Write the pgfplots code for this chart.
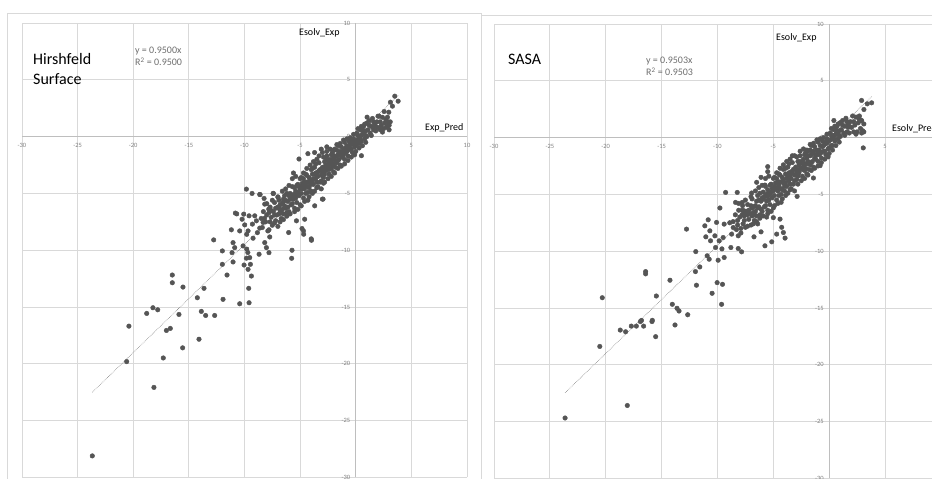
\documentclass[border=0pt]{standalone}
\usepackage{fontspec}
\setmainfont{Carlito}
\usepackage{pgfplots}
\pgfplotsset{compat=1.18}
\definecolor{dot}{RGB}{85,85,85}
\definecolor{gridc}{RGB}{217,217,217}
\definecolor{axc}{RGB}{190,190,190}
\definecolor{tickc}{RGB}{128,128,128}
\definecolor{eqc}{RGB}{110,110,110}
\pgfplotsset{excel/.style={
  scale only axis, anchor=south west,
  xmin=-30,xmax=10,ymin=-30,ymax=10, enlargelimits=false,
  axis lines=middle,
  axis line style={-, draw=axc, line width=0.8pt},
  every inner x axis line/.append style={-},
  every inner y axis line/.append style={-},
  xtick={-30,-25,...,10}, ytick={-30,-25,...,10},
  xticklabels={-30,-25,-20,-15,-10,-5,,5,10},
  yticklabels={-30,-25,-20,-15,-10,-5,0,5,10},
  hide obscured x ticks=false, hide obscured y ticks=false,
  major tick length=0pt,
  grid=major, grid style={draw=gridc, line width=0.8pt},
  tick label style={font=\fontsize{6.5}{7}\selectfont, text=tickc},
  x tick label style={yshift=-3pt},
  y tick label style={xshift=-2pt},
}}
\begin{document}
\begin{tikzpicture}
\useasboundingbox (0,0) rectangle (932pt,479pt);
\draw[gridc, line width=0.8pt] (7pt,466pt) rectangle (481pt,-2pt);
\draw[gridc, line width=0.8pt] (481pt,464pt) rectangle (945pt,-2pt);
% ---------------- left: Hirshfeld surface
\begin{axis}[excel, at={(22pt,1.5pt)}, width=445pt, height=454.5pt]
\addplot[only marks, mark=*, mark size=2.3pt, dot] coordinates {
(-8.5,-7.2)(-8.3,-6.6)(-8.4,-8.0)(-8.1,-7.5)(-8.0,-6.9)(-7.9,-8.3)
(-7.7,-6.2)(-7.6,-7.1)(-7.5,-7.8)(-7.4,-6.6)(-7.3,-5.8)(-7.2,-7.4)(-7.1,-6.9)(-7.0,-6.2)(-7.0,-7.9)
(-6.9,-5.6)(-6.8,-6.5)(-6.7,-7.2)(-6.6,-5.9)(-6.5,-6.8)(-6.4,-5.2)(-6.3,-6.3)(-6.2,-7.0)(-6.1,-5.7)(-6.0,-6.6)
(-5.9,-5.0)(-5.8,-6.0)(-5.7,-4.4)(-5.6,-5.5)(-5.5,-6.3)(-5.4,-4.8)(-5.3,-5.8)(-5.2,-4.2)(-5.1,-5.2)(-5.0,-6.0)
(-4.9,-3.6)(-4.8,-4.6)(-4.7,-5.4)(-4.6,-4.0)(-4.5,-5.0)(-4.4,-3.4)(-4.3,-4.4)(-4.2,-5.3)(-4.1,-3.8)(-4.0,-4.8)(-4.0,-2.9)
(-3.9,-3.3)(-3.8,-4.2)(-3.7,-2.7)(-3.6,-3.7)(-3.5,-4.5)(-3.4,-3.1)(-3.3,-2.3)(-3.2,-4.0)(-3.1,-3.4)(-3.0,-2.7)(-3.0,-1.4)
(-2.9,-3.6)(-2.8,-2.2)(-2.7,-3.0)(-2.6,-1.7)(-2.5,-2.6)(-2.4,-3.3)(-2.3,-2.0)(-2.2,-2.8)(-2.1,-1.4)(-2.0,-2.4)(-2.0,-3.1)
(-1.9,-1.7)(-1.8,-2.7)(-1.7,-1.2)(-1.6,-2.1)(-1.5,-1.5)(-1.4,-2.5)(-1.3,-0.9)(-1.2,-1.8)(-1.1,-1.2)(-1.0,-2.0)(-1.0,-0.5)
(-0.9,-1.4)(-0.8,-0.8)(-0.7,-1.7)(-0.6,-0.4)(-0.5,-1.1)(-0.4,-0.7)(-0.3,-1.4)(-0.2,-0.2)(-0.1,-0.9)(0.0,-0.4)(0.0,-1.3)
(0.1,0.3)(0.2,-0.6)(0.3,-0.1)(0.4,0.6)(0.5,-0.4)(0.6,0.2)(0.7,0.9)(0.8,-0.2)(0.9,0.5)(1.0,1.2)(1.0,0.0)
(1.1,0.6)(1.2,1.4)(1.3,0.3)(1.4,0.9)(1.5,1.6)(1.6,0.6)(1.7,1.1)(1.8,0.5)(1.9,1.3)(2.0,0.8)(2.1,1.8)
(2.2,0.6)(2.3,1.0)(2.5,0.7)(2.6,1.2)(2.8,0.9)(2.9,1.3)(3.0,1.0)(2.4,1.7)
(-6.8,-6.0)(-6.6,-6.4)(-6.3,-5.6)(-6.1,-6.2)(-5.9,-5.5)(-5.7,-5.9)(-5.6,-5.1)(-5.4,-5.4)(-5.2,-4.9)(-5.0,-4.6)
(-4.8,-4.1)(-4.9,-5.0)(-4.6,-4.6)(-4.4,-4.0)(-4.3,-4.9)(-4.2,-3.6)(-4.0,-4.2)(-3.8,-3.7)(-3.6,-3.2)(-3.5,-4.0)
(-3.4,-3.5)(-3.2,-2.9)(-3.1,-3.9)(-2.9,-2.9)(-2.8,-3.3)(-2.7,-2.5)(-2.5,-2.1)(-2.4,-2.9)(-2.3,-2.4)(-2.1,-2.6)
(-2.0,-1.9)(-1.8,-2.2)(-1.7,-1.7)(-1.5,-2.0)(-1.4,-1.3)(-1.3,-1.7)(-1.1,-1.6)(-0.9,-1.0)(-0.7,-1.2)(-0.6,-0.9)
(-0.4,-1.1)(-0.2,-0.6)(0.1,-0.3)(0.3,-0.6)(0.5,0.1)(0.7,0.3)(0.9,0.1)(-7.7,-7.5)(-7.3,-6.9)(-6.9,-6.8)
(-7.8,-6.7)(-8.2,-7.2)(-6.5,-5.5)(-6.2,-5.0)(-5.5,-4.5)(-5.3,-4.3)(-4.7,-3.7)(-4.5,-3.3)(-3.9,-2.8)(-3.6,-2.4)
(-2.6,-2.0)(-2.2,-1.6)(-1.9,-1.1)(-1.6,-0.8)
(-5.1,-1.97)(-5.6,-3.2)(-4.3,-1.5)(-3.7,-1.4)(-3.1,-1.1)(-2.6,-0.9)(-2.9,-4.1)(-3.0,-5.5)(-4.7,-8.3)(-4.0,-9.0)
(-8.6,-5.1)(-7.4,-5.0)
(-8.0,-5.9)(-7.8,-8.2)(-7.5,-5.6)(-7.3,-7.6)(-7.0,-5.3)(-6.8,-7.5)(-6.6,-4.8)(-6.5,-7.3)(-6.3,-4.6)(-6.2,-6.7)
(-6.0,-4.3)(-5.9,-6.8)(-5.7,-3.7)(-5.5,-6.6)(-5.4,-3.5)(-5.2,-6.4)(-5.0,-3.7)(-4.9,-6.1)(-4.7,-3.2)(-4.6,-5.7)
(-4.4,-2.8)(-4.3,-5.6)(-4.1,-2.5)(-3.9,-5.0)(-3.8,-2.2)(-3.7,-4.8)(-3.5,-2.0)(-3.4,-4.4)(-3.3,-1.7)(-3.1,-4.6)
(-2.9,-1.8)(-2.8,-4.0)(-2.6,-1.3)(-2.5,-3.7)(-2.3,-1.1)(-2.2,-3.5)(-2.0,-1.2)(-1.9,-3.2)(-1.7,-0.7)(-1.6,-2.8)
(-1.4,-0.6)(-1.3,-2.6)(-1.1,-0.3)(-1.0,-2.4)(-0.8,-0.2)(-0.7,-2.1)(-0.5,-0.1)(-0.4,-1.8)(-0.2,0.2)(-0.1,-1.6)
(0.2,0.7)(0.3,-1.0)(0.5,0.9)(0.6,-0.8)(0.8,1.1)(0.9,-0.5)(1.2,1.0)(1.4,0.1)(1.6,1.3)(1.8,0.9)(2.2,1.3)(2.4,0.4)
(2.7,1.5)(3.1,1.3)(3.0,0.6)
(-7.6,-6.5)(-7.2,-6.3)(-6.9,-6.3)(-6.7,-6.7)(-6.4,-6.1)(-6.0,-5.2)(-5.8,-5.3)(-5.5,-5.1)(-5.3,-5.1)(-5.1,-4.4)
(-4.9,-4.4)(-4.6,-4.3)(-4.5,-4.3)(-4.2,-4.5)(-4.1,-4.1)(-3.9,-3.9)(-3.7,-3.3)(-3.5,-3.4)(-3.3,-3.0)(-3.0,-3.2)
(-2.8,-2.7)(-2.6,-2.9)(-2.4,-2.3)(-2.2,-2.2)(-1.9,-2.0)(-1.7,-2.3)(-1.6,-1.6)(-1.2,-1.4)(-1.0,-1.1)(-0.8,-1.3)
(-0.5,-0.6)(-0.3,-0.3)(0.0,-0.8)(0.2,0.1)(0.4,-0.2)(0.6,0.6)
(3.51,3.56)(3.81,3.12)(3.12,3.03)(3.3,2.68)(2.55,2.21)(2.97,2.15)(2.85,1.71)(2.0,1.8)(1.02,1.71)
(1.56,0.82)(2.16,0.74)(2.76,0.82)(2.97,1.0)(0.51,-1.68)
(-9.83,-4.62)(-9.32,-5.0)(-8.63,-5.09)(-8.24,-5.44)(-7.43,-5.0)(-8.18,-5.94)(-6.98,-5.35)(-6.53,-5.8)(-7.82,-6.38)
(-10.82,-6.73)(-10.7,-6.8)(-10.07,-6.82)(-10.22,-7.27)(-9.59,-6.97)(-9.08,-6.97)(-8.93,-7.41)(-9.98,-7.77)
(-9.29,-7.7)(-8.33,-7.55)(-8.63,-8.05)(-11.18,-8.2)(-10.43,-8.3)(-9.68,-8.3)(-8.84,-8.45)(-9.8,-8.6)
(-9.23,-8.94)(-12.77,-9.09)(-11.03,-9.33)(-10.13,-9.62)(-10.88,-9.77)(-9.8,-9.9)(-11.99,-10.06)(-11.12,-10.21)
(-9.7,-10.2)(-9.53,-10.65)(-9.83,-10.7)(-11.03,-11.03)(-11.99,-11.24)(-10.04,-11.3)(-9.47,-11.24)(-9.68,-11.68)
(-11.57,-12.18)(-9.38,-12.27)(-16.49,-12.18)(-16.49,-12.86)(-15.53,-13.24)(-13.64,-13.35)(-9.62,-13.35)
(-14.24,-14.18)(-11.93,-14.32)(-10.43,-14.71)(-9.59,-14.62)(-18.23,-15.06)(-17.8,-15.24)(-18.79,-15.56)
(-15.89,-15.65)(-13.88,-15.38)(-13.49,-15.74)(-12.68,-15.74)
(-2.94,-5.5)(-3.69,-6.09)(-4.59,-7.27)(-5.33,-7.41)(-4.83,-8.09)(-4.68,-8.59)(-3.98,-9.12)(-6.03,-8.44)
(-5.73,-10.0)(-5.76,-10.71)(-7.73,-8.83)(-8.18,-9.33)(-8.03,-9.77)(-7.8,-10.21)(-8.69,-10.35)
(-20.39,-16.68)(-17.02,-17.06)(-16.67,-16.88)(-14.09,-17.83)(-15.56,-18.59)(-17.3,-19.48)(-20.59,-19.8)
(-18.14,-22.07)(-23.68,-28.1)
};
\addplot[densely dotted, line width=0.6pt, gray, no marks] coordinates {(-23.68,-22.5) (3.81,3.62)};
\end{axis}
% ---------------- right: SASA
\begin{axis}[excel, at={(494pt,0.7pt)}, width=446.9pt, height=454.3pt]
\addplot[only marks, mark=*, mark size=2.3pt, dot] coordinates {
(-8.6,-7.4)(-8.4,-6.8)(-8.3,-8.1)(-8.2,-7.3)(-8.0,-7.0)(-7.9,-8.0)(-8.1,-6.4)
(-7.8,-6.4)(-7.6,-7.3)(-7.5,-7.9)(-7.4,-6.5)(-7.3,-5.9)(-7.2,-7.2)(-7.1,-6.7)(-7.0,-6.0)(-7.0,-7.7)(-7.6,-6.9)
(-6.9,-5.4)(-6.8,-6.6)(-6.7,-7.3)(-6.6,-6.0)(-6.5,-6.9)(-6.4,-5.1)(-6.3,-6.1)(-6.2,-7.1)(-6.1,-5.6)(-6.0,-6.5)(-6.4,-7.6)
(-5.9,-4.8)(-5.8,-6.1)(-5.7,-4.3)(-5.6,-5.6)(-5.5,-6.4)(-5.4,-4.9)(-5.3,-5.9)(-5.2,-4.1)(-5.1,-5.3)(-5.0,-6.2)(-5.6,-7.0)
(-4.9,-3.5)(-4.8,-4.5)(-4.7,-5.5)(-4.6,-3.9)(-4.5,-5.1)(-4.4,-3.3)(-4.3,-4.5)(-4.2,-5.4)(-4.1,-3.7)(-4.0,-4.7)(-4.1,-2.8)
(-3.9,-3.2)(-3.8,-4.3)(-3.7,-2.6)(-3.6,-3.8)(-3.5,-4.6)(-3.4,-3.0)(-3.3,-2.2)(-3.2,-4.1)(-3.1,-3.3)(-3.0,-2.6)(-3.1,-1.6)
(-2.9,-3.7)(-2.8,-2.1)(-2.7,-3.1)(-2.6,-1.6)(-2.5,-2.7)(-2.4,-3.4)(-2.3,-1.9)(-2.2,-2.9)(-2.1,-1.3)(-2.0,-2.3)(-2.0,-3.2)
(-1.9,-1.6)(-1.8,-2.8)(-1.7,-1.1)(-1.6,-2.2)(-1.5,-1.4)(-1.4,-2.6)(-1.3,-0.8)(-1.2,-1.9)(-1.1,-1.1)(-1.0,-2.1)(-1.0,-0.4)
(-0.9,-1.5)(-0.8,-0.7)(-0.7,-1.8)(-0.6,-0.3)(-0.5,-1.2)(-0.4,-0.6)(-0.3,-1.5)(-0.2,-0.1)(-0.1,-1.0)(0.0,-0.3)(0.0,-1.4)
(0.1,0.4)(0.2,-0.7)(0.3,0.0)(0.4,0.7)(0.5,-0.3)(0.6,0.3)(0.7,1.0)(0.8,-0.1)(0.9,0.6)(1.0,1.3)(1.0,0.1)
(1.1,0.7)(1.2,1.5)(1.3,0.4)(1.4,1.0)(1.5,1.7)(1.6,0.5)(1.7,1.2)(1.8,0.4)(1.9,1.4)(2.0,0.9)(2.1,1.9)
(2.2,0.5)(2.3,1.1)(2.5,0.5)(2.6,1.3)(2.8,0.8)(2.9,1.5)(3.0,0.6)(2.4,1.8)(2.7,1.9)(2.9,0.4)
(-6.8,-6.1)(-6.6,-6.5)(-6.3,-5.5)(-6.1,-6.3)(-5.9,-5.4)(-5.7,-6.0)(-5.6,-5.0)(-5.4,-5.5)(-5.2,-4.8)(-5.0,-4.7)
(-4.8,-4.0)(-4.9,-5.1)(-4.6,-4.7)(-4.4,-3.9)(-4.3,-5.0)(-4.2,-3.5)(-4.0,-4.3)(-3.8,-3.6)(-3.6,-3.1)(-3.5,-4.1)
(-3.4,-3.6)(-3.2,-2.8)(-3.1,-3.8)(-2.9,-3.0)(-2.8,-3.4)(-2.7,-2.4)(-2.5,-2.2)(-2.4,-2.8)(-2.3,-2.5)(-2.1,-2.7)
(-2.0,-1.8)(-1.8,-2.3)(-1.7,-1.6)(-1.5,-2.1)(-1.4,-1.2)(-1.3,-1.8)(-1.1,-1.5)(-0.9,-1.1)(-0.7,-1.3)(-0.6,-0.8)
(-0.4,-1.2)(-0.2,-0.5)(0.1,-0.2)(0.3,-0.7)(0.5,0.2)(0.7,0.4)(0.9,0.2)(-7.7,-7.6)(-7.3,-6.8)(-6.9,-6.9)
(-7.8,-6.8)(-8.2,-7.7)(-6.5,-5.6)(-6.2,-4.9)(-5.5,-4.6)(-5.3,-4.2)(-4.7,-3.6)(-4.5,-3.2)(-3.9,-2.7)(-3.6,-2.3)
(-2.6,-2.1)(-2.2,-1.5)(-1.9,-1.2)(-1.6,-0.7)
(-8.1,-5.8)(-7.9,-8.4)(-7.5,-5.5)(-7.3,-7.8)(-7.0,-5.2)(-6.8,-7.6)(-6.6,-4.7)(-6.5,-7.4)(-6.3,-4.4)(-6.2,-6.8)
(-6.0,-4.2)(-5.9,-6.9)(-5.7,-3.6)(-5.5,-6.7)(-5.4,-3.4)(-5.2,-6.5)(-5.0,-3.6)(-4.9,-6.0)(-4.7,-3.1)(-4.6,-5.8)
(-4.4,-2.7)(-4.3,-5.7)(-4.1,-2.4)(-3.9,-5.1)(-3.8,-2.1)(-3.7,-4.9)(-3.5,-1.9)(-3.4,-4.5)(-3.3,-1.6)(-3.1,-4.7)
(-2.9,-1.7)(-2.8,-4.1)(-2.6,-1.2)(-2.5,-3.8)(-2.3,-1.0)(-2.2,-3.6)(-2.0,-1.1)(-1.9,-3.3)(-1.7,-0.6)(-1.6,-2.9)
(-1.4,-0.5)(-1.3,-2.7)(-1.1,-0.2)(-1.0,-2.5)(-0.8,-0.1)(-0.7,-2.2)(-0.5,0.0)(-0.4,-1.9)(-0.2,0.3)(-0.1,-1.7)
(0.2,0.8)(0.3,-1.1)(0.5,1.0)(0.6,-0.7)(0.8,1.2)(0.9,-0.4)(1.2,1.1)(1.4,0.2)(1.6,1.4)(1.8,1.0)(2.2,1.4)(2.4,0.3)
(2.7,1.6)(3.1,1.2)(3.1,0.5)
(-7.6,-6.6)(-7.2,-6.4)(-6.9,-6.2)(-6.7,-6.8)(-6.4,-6.2)(-6.0,-5.3)(-5.8,-5.2)(-5.5,-5.2)(-5.3,-5.0)(-5.1,-4.5)
(-4.9,-4.3)(-4.6,-4.4)(-4.5,-4.2)(-4.2,-4.6)(-4.1,-4.0)(-3.9,-4.0)(-3.7,-3.4)(-3.5,-3.3)(-3.3,-3.1)(-3.0,-3.3)
(-2.8,-2.8)(-2.6,-2.8)(-2.4,-2.2)(-2.2,-2.3)(-1.9,-2.1)(-1.7,-2.4)(-1.6,-1.5)(-1.2,-1.5)(-1.0,-1.2)(-0.8,-1.4)
(-0.5,-0.7)(-0.3,-0.4)(0.0,-0.9)(0.2,0.2)(0.4,-0.1)(0.6,0.7)
(2.9,3.27)(3.41,2.97)(3.8,3.06)(3.11,2.47)(2.66,1.79)(2.87,1.5)(0.42,1.5)(0.98,1.3)(1.7,0.9)(3.05,-0.91)
(-9.27,-4.83)(-8.23,-4.83)(-6.94,-4.88)(-8.38,-5.71)(-7.78,-5.71)(-7.75,-6.0)(-9.78,-6.2)(-7.63,-6.44)
(-6.49,-3.94)(-6.1,-3.5)(-5.75,-4.18)(-5.5,-2.56)(-5.5,-3.0)(-2.87,-5.18)(-1.41,-3.56)(-0.81,-2.47)
(-12.77,-8.06)(-10.83,-7.24)(-11.13,-7.77)(-10.08,-7.47)(-9.4,-7.62)(-8.9,-7.5)(-8.59,-7.92)(-10.68,-8.21)
(-11.04,-8.74)(-10.23,-8.65)(-9.49,-8.8)(-8.73,-8.5)(-8.14,-8.65)(-10.62,-9.09)(-9.85,-9.09)(-8.8,-9.68)
(-10.17,-9.68)(-9.6,-9.8)(-11.94,-10.04)(-10.92,-10.41)(-10.74,-10.71)(-9.94,-10.8)(-9.4,-10.56)(-8.14,-9.77)
(-7.84,-10.06)(-11.58,-11.39)(-11.97,-11.8)(-16.43,-11.8)(-16.43,-12.0)(-14.25,-12.56)(-11.88,-13.0)
(-10.03,-12.77)(-9.55,-12.92)(-10.48,-13.71)(-15.47,-13.95)(-20.31,-14.1)(-9.63,-14.68)(-14.04,-14.68)
(-13.62,-15.03)(-13.44,-15.27)(-12.66,-15.6)(-15.83,-16.09)(-16.8,-16.1)
(-4.1,-8.36)(-3.95,-8.85)(-4.7,-8.5)(-5.14,-9.18)(-5.75,-9.53)(-4.4,-7.18)(-4.25,-7.9)(-5.0,-7.05)(-6.73,-8.74)(-6.1,-8.3)
(-18.7,-16.95)(-18.22,-17.1)(-17.71,-16.6)(-17.26,-16.6)(-16.9,-16.2)(-16.61,-16.6)(-15.86,-16.2)(-15.53,-17.53)
(-13.8,-16.5)(-20.53,-18.39)(-18.07,-23.59)(-23.64,-24.69)
};
\addplot[densely dotted, line width=0.6pt, gray, no marks] coordinates {(-23.64,-22.47) (3.8,3.61)};
\end{axis}
% ---------------- texts
\node[anchor=base west, inner sep=0pt, font=\fontsize{16}{19}\selectfont] at (33pt,414pt) {Hirshfeld};
\node[anchor=base west, inner sep=0pt, font=\fontsize{16}{19}\selectfont] at (33pt,394pt) {Surface};
\node[anchor=base west, inner sep=0pt, font=\fontsize{10}{12}\selectfont, text=eqc] at (135pt,425pt) {y = 0.9500x};
\node[anchor=base west, inner sep=0pt, font=\fontsize{10}{12}\selectfont, text=eqc] at (135pt,413pt) {R\textsuperscript{2} = 0.9500};
\node[anchor=base west, inner sep=0pt, font=\fontsize{10}{12}\selectfont] at (299pt,443pt) {Esolv\_Exp};
\node[anchor=base west, inner sep=0pt, font=\fontsize{10}{12}\selectfont] at (425pt,348pt) {Exp\_Pred};
\node[anchor=base west, inner sep=0pt, font=\fontsize{16}{19}\selectfont] at (508pt,414pt) {SASA};
\node[anchor=base west, inner sep=0pt, font=\fontsize{10}{12}\selectfont, text=eqc] at (646pt,415pt) {y = 0.9503x};
\node[anchor=base west, inner sep=0pt, font=\fontsize{10}{12}\selectfont, text=eqc] at (646pt,403pt) {R\textsuperscript{2} = 0.9503};
\node[anchor=base west, inner sep=0pt, font=\fontsize{10}{12}\selectfont] at (776pt,438.5pt) {Esolv\_Exp};
\node[anchor=base west, inner sep=0pt, font=\fontsize{10}{12}\selectfont] at (892pt,347.5pt) {Esolv\_Pred};
\end{tikzpicture}
\end{document}
